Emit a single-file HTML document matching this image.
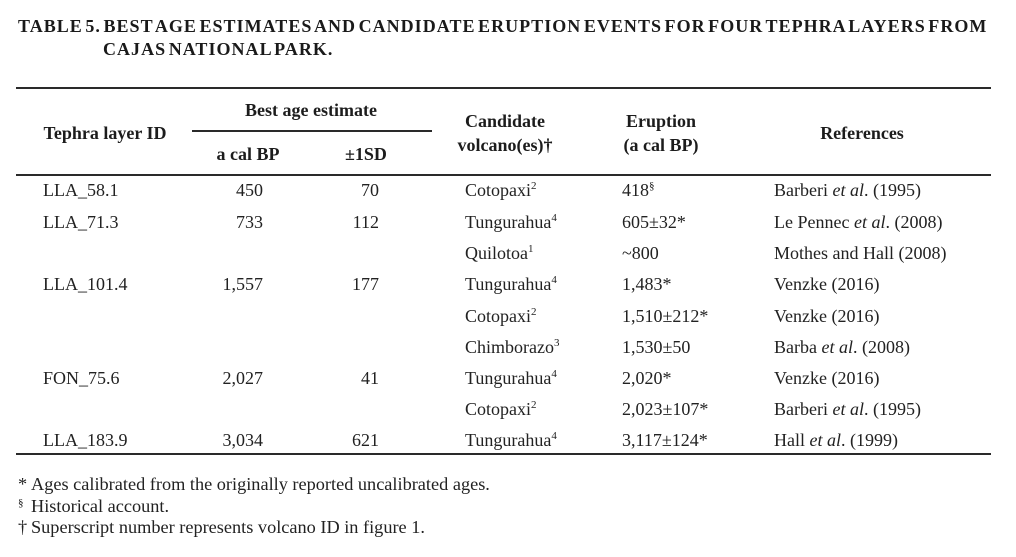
<!DOCTYPE html>
<html>
<head>
<meta charset="utf-8">
<style>
  html, body { margin:0; padding:0; }
  body { width:1016px; height:557px; background:#fff; position:relative; overflow:hidden;
         font-family:"Liberation Serif", "DejaVu Serif", serif; color:#222; }
  .t { position:absolute; font-size:18px; line-height:20px; white-space:nowrap; }
  .f { font-size:18.3px; }
  .b { font-weight:bold; color:#1c1c1c; }
  .c { text-align:center; width:300px; }
  .r { text-align:right; width:120px; }
  .rule { position:absolute; left:16px; width:975px; height:2px; background:#2a2a2a; }
  sup { font-size:11px; line-height:0; vertical-align:0; position:relative; top:-7px; }
  .title { position:absolute; font-size:18px; font-weight:bold; line-height:22px; white-space:nowrap;
           letter-spacing:1.03px; word-spacing:-3px; color:#1a1a1a; }
</style>
</head>
<body>
  <div class="title" style="left:18px; top:15px;">TABLE 5. BEST AGE ESTIMATES AND CANDIDATE ERUPTION EVENTS FOR FOUR TEPHRA LAYERS FROM</div>
  <div class="title" style="left:103px; top:38px;">CAJAS NATIONAL PARK.</div>

  <div class="rule" style="top:87px;"></div>
  <div style="position:absolute; left:192px; width:240px; top:130px; height:2px; background:#2a2a2a;"></div>
  <div class="rule" style="top:174px;"></div>
  <div class="rule" style="top:453px;"></div>

  <!-- header -->
  <div class="t b c" style="left:-45px; top:123px;">Tephra layer ID</div>
  <div class="t b c" style="left:161px; top:100px;">Best age estimate</div>
  <div class="t b c" style="left:98px; top:144px;">a cal BP</div>
  <div class="t b c" style="left:216px; top:144px;">±1SD</div>
  <div class="t b c" style="left:355px; top:111px;">Candidate</div>
  <div class="t b c" style="left:355px; top:135px;">volcano(es)†</div>
  <div class="t b c" style="left:511px; top:111px;">Eruption</div>
  <div class="t b c" style="left:511px; top:135px;">(a cal BP)</div>
  <div class="t b c" style="left:712px; top:123px;">References</div>

  <!-- rows -->
  <div class="t" style="left:43px; top:180px;">LLA_58.1</div>
  <div class="t r" style="left:143px; top:180px;">450</div>
  <div class="t r" style="left:259px; top:180px;">70</div>
  <div class="t" style="left:465px; top:180px;">Cotopaxi<sup>2</sup></div>
  <div class="t" style="left:622px; top:180px;">418<sup>§</sup></div>
  <div class="t" style="left:774px; top:180px;">Barberi <i>et al</i>. (1995)</div>

  <div class="t" style="left:43px; top:212px;">LLA_71.3</div>
  <div class="t r" style="left:143px; top:212px;">733</div>
  <div class="t r" style="left:259px; top:212px;">112</div>
  <div class="t" style="left:465px; top:212px;">Tungurahua<sup>4</sup></div>
  <div class="t" style="left:622px; top:212px;">605±32*</div>
  <div class="t" style="left:774px; top:212px;">Le Pennec <i>et al</i>. (2008)</div>

  <div class="t" style="left:465px; top:243px;">Quilotoa<sup>1</sup></div>
  <div class="t" style="left:622px; top:243px;">~800</div>
  <div class="t" style="left:774px; top:243px;">Mothes and Hall (2008)</div>

  <div class="t" style="left:43px; top:274px;">LLA_101.4</div>
  <div class="t r" style="left:143px; top:274px;">1,557</div>
  <div class="t r" style="left:259px; top:274px;">177</div>
  <div class="t" style="left:465px; top:274px;">Tungurahua<sup>4</sup></div>
  <div class="t" style="left:622px; top:274px;">1,483*</div>
  <div class="t" style="left:774px; top:274px;">Venzke (2016)</div>

  <div class="t" style="left:465px; top:306px;">Cotopaxi<sup>2</sup></div>
  <div class="t" style="left:622px; top:306px;">1,510±212*</div>
  <div class="t" style="left:774px; top:306px;">Venzke (2016)</div>

  <div class="t" style="left:465px; top:337px;">Chimborazo<sup>3</sup></div>
  <div class="t" style="left:622px; top:337px;">1,530±50</div>
  <div class="t" style="left:774px; top:337px;">Barba <i>et al</i>. (2008)</div>

  <div class="t" style="left:43px; top:368px;">FON_75.6</div>
  <div class="t r" style="left:143px; top:368px;">2,027</div>
  <div class="t r" style="left:259px; top:368px;">41</div>
  <div class="t" style="left:465px; top:368px;">Tungurahua<sup>4</sup></div>
  <div class="t" style="left:622px; top:368px;">2,020*</div>
  <div class="t" style="left:774px; top:368px;">Venzke (2016)</div>

  <div class="t" style="left:465px; top:399px;">Cotopaxi<sup>2</sup></div>
  <div class="t" style="left:622px; top:399px;">2,023±107*</div>
  <div class="t" style="left:774px; top:399px;">Barberi <i>et al</i>. (1995)</div>

  <div class="t" style="left:43px; top:430px;">LLA_183.9</div>
  <div class="t r" style="left:143px; top:430px;">3,034</div>
  <div class="t r" style="left:259px; top:430px;">621</div>
  <div class="t" style="left:465px; top:430px;">Tungurahua<sup>4</sup></div>
  <div class="t" style="left:622px; top:430px;">3,117±124*</div>
  <div class="t" style="left:774px; top:430px;">Hall <i>et al</i>. (1999)</div>

  <!-- footnotes -->
  <div class="t f" style="left:18px; top:474px;">*</div>
  <div class="t f" style="left:31px; top:474px;">Ages calibrated from the originally reported uncalibrated ages.</div>
  <div class="t f" style="left:18px; top:496px;"><sup style="top:-6px;">§</sup></div>
  <div class="t f" style="left:31px; top:496px;">Historical account.</div>
  <div class="t f" style="left:18px; top:517px;">†</div>
  <div class="t f" style="left:31px; top:517px;">Superscript number represents volcano ID in figure 1.</div>
</body>
</html>
